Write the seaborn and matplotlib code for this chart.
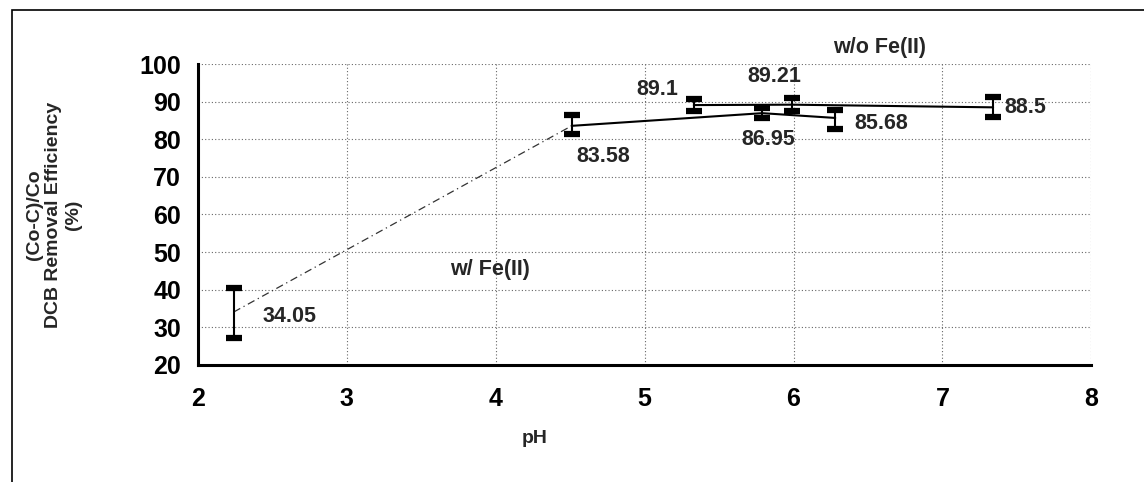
import numpy as np
import pandas as pd
import matplotlib
matplotlib.use("Agg")
import matplotlib.pyplot as plt
import seaborn as sns
from matplotlib.ticker import MultipleLocator
from matplotlib.patches import Rectangle

# data
ph_with = [2.24, 4.51, 5.79, 6.28]
eff_with = [34.05, 83.58, 86.95, 85.68]
err_lo_with = [6.9, 2.1, 1.4, 3.0]
err_hi_with = [6.4, 2.8, 1.4, 2.2]

ph_without = [5.33, 5.99, 7.34]
eff_without = [89.1, 89.21, 88.5]
err_lo_without = [1.6, 1.7, 2.6]
err_hi_without = [1.5, 1.7, 2.7]

labels_with = ["34.05", "83.58", "86.95", "85.68"]
labels_without = ["89.1", "89.21", "88.5"]
x_ticks = [2, 3, 4, 5, 6, 7, 8]
y_ticks = [20, 30, 40, 50, 60, 70, 80, 90, 100]

sns.set_style("white")
plt.rcParams['font.family'] = ['Liberation Sans', 'DejaVu Sans']

fig = plt.figure(figsize=(11.44, 4.82), dpi=100)
ax = fig.add_axes([0.173, 0.243, 0.781, 0.624])

df_w = pd.DataFrame({"pH": ph_with, "eff": eff_with})
df_wo = pd.DataFrame({"pH": ph_without, "eff": eff_without})

# first segment of w/ series thin dashed
sns.lineplot(data=df_w.iloc[:2], x="pH", y="eff", ax=ax, color="#333333",
             linewidth=0.9, linestyle=(0, (6, 3, 1, 3)), sort=False)
sns.lineplot(data=df_w.iloc[1:], x="pH", y="eff", ax=ax, color="black",
             linewidth=1.5, sort=False)
sns.lineplot(data=df_wo, x="pH", y="eff", ax=ax, color="black",
             linewidth=1.5, sort=False)

ax.errorbar(ph_with, eff_with, yerr=[err_lo_with, err_hi_with], fmt="none",
            ecolor="black", elinewidth=1.5, capsize=6, capthick=4.5)
ax.errorbar(ph_without, eff_without, yerr=[err_lo_without, err_hi_without],
            fmt="none", ecolor="black", elinewidth=1.5, capsize=6, capthick=4.5)

ax.set_xlim(2, 8)
ax.set_ylim(20, 100)
ax.set_xticks(x_ticks)
ax.set_yticks(y_ticks)
ax.xaxis.set_minor_locator(MultipleLocator(0.2))
ax.yaxis.set_minor_locator(MultipleLocator(2))
ax.grid(True, which="major", linestyle=(0, (1, 2)), color="#666666", linewidth=0.8)
for s in ["top", "right"]:
    ax.spines[s].set_visible(False)
for s in ["left", "bottom"]:
    ax.spines[s].set_linewidth(2.2)
    ax.spines[s].set_color("black")
ax.tick_params(axis="both", which="major", direction="inout", length=8, width=2,
               labelsize=18, colors="black")
ax.tick_params(axis="both", which="minor", direction="inout", length=4, width=1.5)
ax.tick_params(axis="x", pad=12)
ax.tick_params(axis="y", pad=8)
for lbl in ax.get_xticklabels() + ax.get_yticklabels():
    lbl.set_fontweight("bold")

ax.set_xlabel("pH", fontsize=14, fontweight="bold")
ax.xaxis.set_label_coords(0.377, -0.215)
ax.set_ylabel("(Co-C)/Co\nDCB Removal Efficiency\n(%)", fontsize=14,
              fontweight="bold", linespacing=1.2)
ax.yaxis.set_label_coords(-0.13, 0.5)

# value annotations
offs_with = [(21, -3), (23, -22), (4, -19), (14, -4)]
ha_with = ["left", "center", "center", "left"]
for x, y, t, o, h in zip(ph_with, eff_with, labels_with, offs_with, ha_with):
    ax.annotate(t, (x, y), xytext=o, textcoords="offset points", ha=h,
                va="center", fontsize=15.5, fontweight="bold")
offs_wo = [(-11, 11.5), (-13, 20), (8, 0)]
ha_wo = ["right", "center", "left"]
for x, y, t, o, h in zip(ph_without, eff_without, labels_without, offs_wo, ha_wo):
    ax.annotate(t, (x, y), xytext=o, textcoords="offset points", ha=h,
                va="center", fontsize=15.5, fontweight="bold")

ax.text(6.58, 104.3, "w/o Fe(II)", fontsize=15.5, fontweight="bold", ha="center",
        va="center", clip_on=False)
ax.text(3.96, 45.3, "w/ Fe(II)", fontsize=15.5, fontweight="bold", ha="center",
        va="center")

fig.patches.append(Rectangle((0.0105, -0.1), 1.2, 1.08, transform=fig.transFigure,
                             fill=False, edgecolor="black", linewidth=1.2))

fig.savefig("out.png", dpi=100)
